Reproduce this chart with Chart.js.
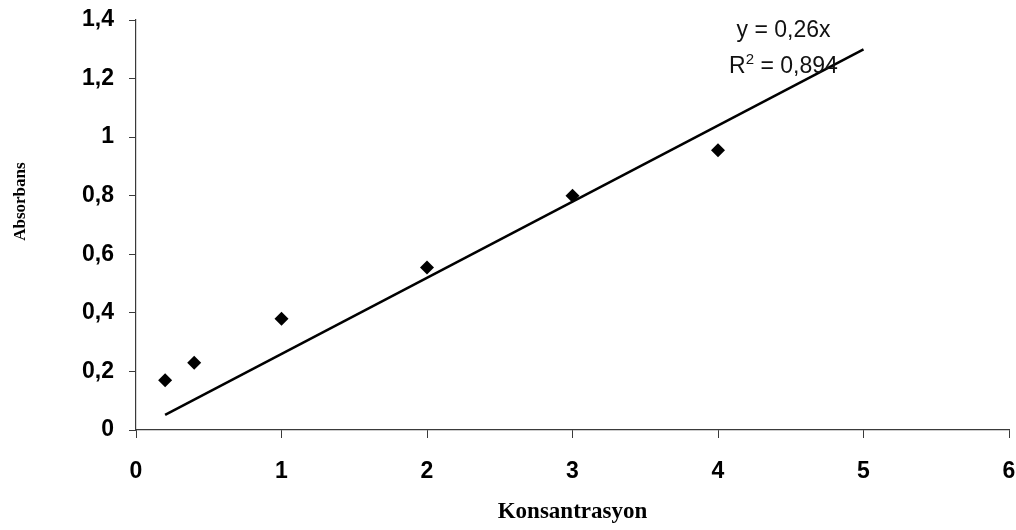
<!DOCTYPE html>
<html>
<head>
<meta charset="utf-8">
<script src="https://cdn.jsdelivr.net/npm/chart.js@4/dist/chart.umd.min.js"></script>
<style>
  html, body { margin: 0; padding: 0; background: #ffffff; overflow: hidden; }
  #wrap { width: 1016px; height: 530px; }
</style>
</head>
<body>
<div id="wrap"><canvas id="c" width="1016" height="530"></canvas></div>
<script>
// Measured points (Konsantrasyon, Absorbans)
const concentration = [0.2, 0.4, 1, 2, 3, 4];
const absorbance = [0.17, 0.23, 0.38, 0.555, 0.80, 0.955];
// Trend line y = 0,26x drawn from x = 0,2 to x = 5
const trendX = [0.2, 5];
const trendY = [0.052, 1.3];
// Tick labels
const xTickLabels = ['0', '1', '2', '3', '4', '5', '6'];
const yTickLabels = ['0', '0,2', '0,4', '0,6', '0,8', '1', '1,2', '1,4'];
// Texts
const xTitle = 'Konsantrasyon';
const yTitle = 'Absorbans';
const eqLine1 = 'y = 0,26x';
const eqR2Value = '0,894';

const axisColor = '#3a3a3a';

const equationPlugin = {
  id: 'equation',
  afterDatasetsDraw(chart) {
    const ctx = chart.ctx;
    const xs = chart.scales.x, ys = chart.scales.y;
    const cx = xs.getPixelForValue(4.45);
    const mainFont = '23px "Liberation Sans", Arial, sans-serif';
    const supFont = '15px "Liberation Sans", Arial, sans-serif';
    ctx.save();
    ctx.fillStyle = '#111';
    ctx.textBaseline = 'middle';
    ctx.font = mainFont;
    ctx.textAlign = 'center';
    ctx.fillText(eqLine1, cx, ys.getPixelForValue(1.365));
    // R² = 0,894
    const y2 = ys.getPixelForValue(1.24);
    ctx.font = mainFont;
    const wR = ctx.measureText('R').width;
    const rest = ' = ' + eqR2Value;
    const wRest = ctx.measureText(rest).width;
    ctx.font = supFont;
    const wSup = ctx.measureText('2').width;
    const total = wR + wSup + wRest;
    const x0 = cx - total / 2;
    ctx.textAlign = 'left';
    ctx.font = mainFont;
    ctx.fillText('R', x0, y2);
    ctx.font = supFont;
    ctx.fillText('2', x0 + wR, y2 - 7);
    ctx.font = mainFont;
    ctx.fillText(rest, x0 + wR + wSup, y2);
    ctx.restore();
  }
};

new Chart(document.getElementById('c'), {
  type: 'scatter',
  data: {
    datasets: [
      {
        label: 'Absorbans',
        data: concentration.map((x, i) => ({ x: x, y: absorbance[i] })),
        pointStyle: 'rectRot',
        pointRadius: 7,
        pointHoverRadius: 7,
        backgroundColor: '#000',
        borderColor: '#000',
        borderWidth: 0,
        showLine: false,
        order: 1
      },
      {
        label: 'Trend',
        data: trendX.map((x, i) => ({ x: x, y: trendY[i] })),
        showLine: true,
        borderColor: '#000',
        borderWidth: 2.5,
        pointRadius: 0,
        fill: false,
        order: 2
      }
    ]
  },
  options: {
    responsive: false,
    animation: false,
    layout: { padding: { top: 20, right: 6, bottom: 0, left: 0 } },
    plugins: {
      legend: { display: false },
      tooltip: { enabled: false }
    },
    scales: {
      x: {
        type: 'linear',
        min: 0, max: 6,
        ticks: {
          stepSize: 1,
          padding: 20,
          color: '#000',
          font: { family: '"Liberation Sans", Arial, sans-serif', size: 23, weight: 'bold' },
          callback: (v) => xTickLabels[Math.round(v)]
        },
        grid: { drawOnChartArea: false, drawTicks: true, tickLength: 8, color: axisColor, lineWidth: 1 },
        border: { display: true, color: axisColor, width: 1.2 },
        title: {
          display: true,
          text: xTitle,
          color: '#000',
          font: { family: '"Liberation Serif", "Times New Roman", serif', size: 23, weight: 'bold' },
          padding: { top: 0, bottom: 4 }
        },
        afterFit: (scale) => { scale.height = 100; scale.paddingRight = 0; }
      },
      y: {
        type: 'linear',
        min: 0, max: 1.4,
        ticks: {
          stepSize: 0.2,
          padding: 15,
          color: '#000',
          font: { family: '"Liberation Sans", Arial, sans-serif', size: 23, weight: 'bold' },
          callback: (v) => yTickLabels[Math.round(v / 0.2)]
        },
        grid: { drawOnChartArea: false, drawTicks: true, tickLength: 7, color: axisColor, lineWidth: 1 },
        border: { display: true, color: axisColor, width: 1.2 },
        title: {
          display: true,
          text: '\u00a0\u00a0\u00a0\u00a0\u00a0\u00a0\u00a0\u00a0\u00a0\u00a0\u00a0' + yTitle,
          color: '#000',
          font: { family: '"Liberation Serif", "Times New Roman", serif', size: 17, weight: 'bold' },
          padding: { top: 10, bottom: 0 }
        },
        afterFit: (scale) => { scale.width = 136; scale.paddingTop = 0; scale.paddingBottom = 0; }
      }
    }
  },
  plugins: [equationPlugin]
});
</script>
</body>
</html>
